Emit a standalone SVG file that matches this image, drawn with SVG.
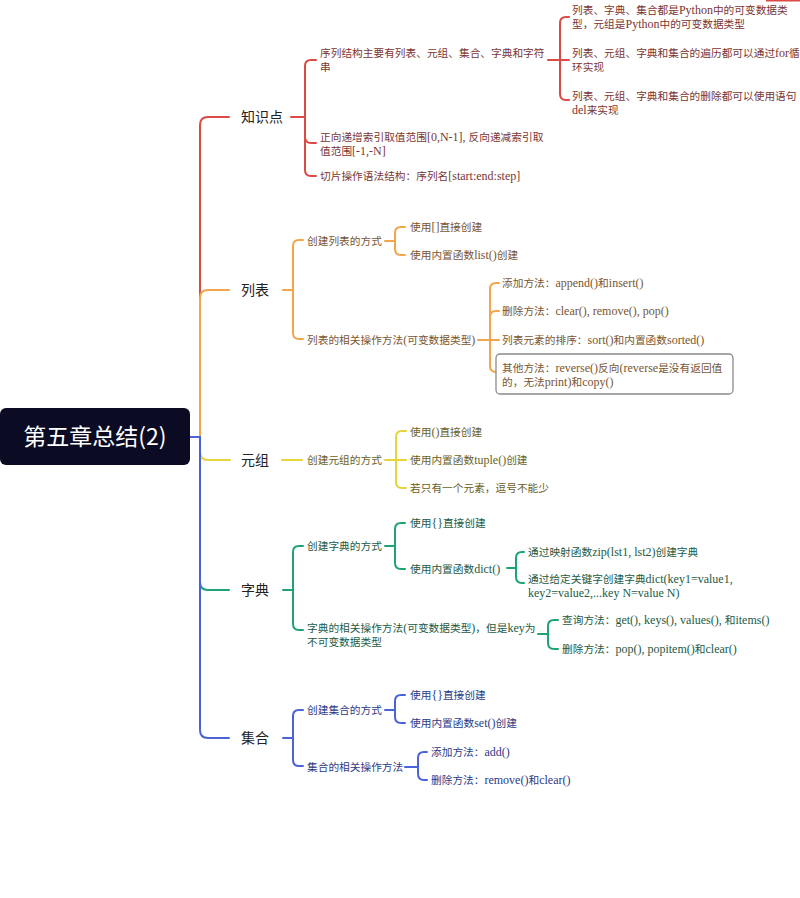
<svg xmlns="http://www.w3.org/2000/svg" width="800" height="898" viewBox="0 0 800 898">
<style>
.c{fill:none;stroke-width:2;stroke-linecap:round;stroke-linejoin:round}
.red{stroke:#dc4a45}.org{stroke:#f2a54a}.yel{stroke:#e6d43a}.grn{stroke:#1ea472}.blu{stroke:#4a63d8}
.l1{font-family:"Noto Sans CJK SC","Liberation Sans",sans-serif;font-size:14px;fill:#222}
.t{font-family:"Liberation Serif","Noto Sans CJK SC",serif;font-size:10.7px}
.e{font-size:12px}
.tr{fill:#7b3532}.to{fill:#7a5530}.ty{fill:#6a6126}.tg{fill:#1d5a43}.tb{fill:#2c3a86}
</style>
<rect width="800" height="898" fill="#fff"/>
<rect x="766" y="0" width="34" height="1.5" fill="#dc4a45"/>
<g id="connectors">
<path class="c red" d="M190,437 H200 V125 Q200,117 208,117 H229"/>
<path class="c org" d="M190,437 H200 V298 Q200,290 208,290 H229"/>
<path class="c yel" d="M190,437 H200 V452 Q200,460 208,460 H230"/>
<path class="c grn" d="M190,437 H200 V582 Q200,590 208,590 H229"/>
<path class="c blu" d="M190,437 H200 V730 Q200,738 208,738 H229"/>
<path class="c red" d="M291,117 H305 V66 Q305,60 311,60 H316 M291,117 H305 V137 Q305,143 311,143 H316 M291,117 H305 V170 Q305,176 311,176 H316"/>
<path class="c red" d="M548,60 H560 V23 Q560,17 566,17 H569 M548,60 H569 M548,60 H560 V94 Q560,100 566,100 H569"/>
<path class="c org" d="M283,290 H293 V246 Q293,240 299,240 H303 M283,290 H293 V333 Q293,339 299,339 H303"/>
<path class="c org" d="M385,241 H395 V233 Q395,227 401,227 H405 M385,241 H395 V249 Q395,255 401,255 H405"/>
<path class="c org" d="M478,340 H490 V289 Q490,283 496,283 H499 M478,340 H490 V317 Q490,311 496,311 H499 M478,340 H499 M478,340 H490 V366 Q490,372 496,372"/>
<path class="c yel" d="M282,460 H302"/>
<path class="c yel" d="M385,460 H396 V437 Q396,431 402,431 H406 M385,460 H406 M385,460 H396 V482 Q396,488 402,488 H406"/>
<path class="c grn" d="M283,590 H293 V552 Q293,546 299,546 H303 M283,590 H293 V624 Q293,630 299,630 H303"/>
<path class="c grn" d="M385,546 H395 V529 Q395,523 401,523 H405 M385,546 H395 V563 Q395,569 401,569 H405"/>
<path class="c grn" d="M507,568 H516 V558 Q516,552 522,552 H524 M507,568 H516 V577 Q516,583 522,583 H524"/>
<path class="c grn" d="M538,634 H548 V626 Q548,620 554,620 H558 M538,634 H548 V643 Q548,649 554,649 H558"/>
<path class="c blu" d="M283,738 H293 V716 Q293,710 299,710 H303 M283,738 H293 V760 Q293,766 299,766 H303"/>
<path class="c blu" d="M385,710 H395 V701 Q395,695 401,695 H405 M385,710 H395 V717 Q395,723 401,723 H405"/>
<path class="c blu" d="M405,767 H418 V758 Q418,752 424,752 H427 M405,767 H418 V774 Q418,780 424,780 H427"/>
</g>
<g id="root">
<rect x="0" y="408" width="190" height="57" rx="6" fill="#0b0b24"/>
<text x="95" y="445" text-anchor="middle" font-family="Noto Sans CJK SC, Liberation Sans, sans-serif" font-size="23" fill="#fff">第五章总结(2)</text>
</g>
<g id="n-zhishidian"><text class="l1" x="241" y="122">知识点</text></g>
<g id="n-xulie" class="t tr"><text x="320" y="57">序列结构主要有列表、元组、集合、字典和字符</text><text x="320" y="71">串</text></g>
<g id="n-kebian" class="t tr"><text x="572" y="14">列表、字典、集合都是<tspan class="e">Python</tspan>中的可变数据类</text><text x="572" y="28">型，元组是<tspan class="e">Python</tspan>中的可变数据类型</text></g>
<g id="n-bianli" class="t tr"><text x="572" y="57">列表、元组、字典和集合的遍历都可以通过<tspan class="e">for</tspan>循</text><text x="572" y="71">环实现</text></g>
<g id="n-shanchu" class="t tr"><text x="572" y="100">列表、元组、字典和集合的删除都可以使用语句</text><text x="572" y="114"><tspan class="e">del</tspan>来实现</text></g>
<g id="n-suoyin" class="t tr"><text x="320" y="141">正向递增索引取值范围<tspan class="e">[0,N-1], </tspan>反向递减索引取</text><text x="320" y="155">值范围<tspan class="e">[-1,-N]</tspan></text></g>
<g id="n-qiepian" class="t tr"><text x="320" y="180">切片操作语法结构：序列名<tspan class="e">[start:end:step]</tspan></text></g>
<g id="n-liebiao"><text class="l1" x="241" y="295">列表</text></g>
<g id="n-lb-create" class="t to"><text x="307" y="245">创建列表的方式</text></g>
<g id="n-lb-c1" class="t to"><text x="410" y="231">使用<tspan class="e">[]</tspan>直接创建</text></g>
<g id="n-lb-c2" class="t to"><text x="410" y="259">使用内置函数<tspan class="e">list()</tspan>创建</text></g>
<g id="n-lb-ops" class="t to"><text x="307" y="344">列表的相关操作方法<tspan class="e">(</tspan>可变数据类型<tspan class="e">)</tspan></text></g>
<g id="n-lb-o1" class="t to"><text x="502" y="287">添加方法：<tspan class="e">append()</tspan>和<tspan class="e">insert()</tspan></text></g>
<g id="n-lb-o2" class="t to"><text x="502" y="315">删除方法：<tspan class="e">clear(), remove(), pop()</tspan></text></g>
<g id="n-lb-o3" class="t to"><text x="502" y="344">列表元素的排序：<tspan class="e">sort()</tspan>和内置函数<tspan class="e">sorted()</tspan></text></g>
<g id="n-lb-o4"><rect x="496" y="354" width="237" height="40" rx="4" fill="#fff" stroke="#8a8a8a" stroke-width="1.3"/><g class="t to"><text x="502" y="372">其他方法：<tspan class="e">reverse()</tspan>反向<tspan class="e">(reverse</tspan>是没有返回值</text><text x="502" y="386">的，无法<tspan class="e">print)</tspan>和<tspan class="e">copy()</tspan></text></g></g>
<g id="n-yuanzu"><text class="l1" x="241" y="465">元组</text></g>
<g id="n-yz-create" class="t ty"><text x="307" y="464">创建元组的方式</text></g>
<g id="n-yz-c1" class="t ty"><text x="410" y="436">使用<tspan class="e">()</tspan>直接创建</text></g>
<g id="n-yz-c2" class="t ty"><text x="410" y="464">使用内置函数<tspan class="e">tuple()</tspan>创建</text></g>
<g id="n-yz-c3" class="t ty"><text x="410" y="492">若只有一个元素，逗号不能少</text></g>
<g id="n-zidian"><text class="l1" x="241" y="595">字典</text></g>
<g id="n-zd-create" class="t tg"><text x="307" y="550">创建字典的方式</text></g>
<g id="n-zd-c1" class="t tg"><text x="410" y="527">使用<tspan class="e">{}</tspan>直接创建</text></g>
<g id="n-zd-c2" class="t tg"><text x="410" y="573">使用内置函数<tspan class="e">dict()</tspan></text></g>
<g id="n-zd-zip" class="t tg"><text x="528" y="556">通过映射函数<tspan class="e">zip(lst1, lst2)</tspan>创建字典</text></g>
<g id="n-zd-kw" class="t tg"><text x="528" y="583">通过给定关键字创建字典<tspan class="e">dict(key1=value1,</tspan></text><text x="528" y="597"><tspan class="e">key2=value2,...key N=value N)</tspan></text></g>
<g id="n-zd-ops" class="t tg"><text x="307" y="632">字典的相关操作方法<tspan class="e">(</tspan>可变数据类型<tspan class="e">)</tspan>，但是<tspan class="e">key</tspan>为</text><text x="307" y="646">不可变数据类型</text></g>
<g id="n-zd-o1" class="t tg"><text x="562" y="624">查询方法：<tspan class="e">get(), keys(), values(), </tspan>和<tspan class="e">items()</tspan></text></g>
<g id="n-zd-o2" class="t tg"><text x="562" y="653">删除方法：<tspan class="e">pop(), popitem()</tspan>和<tspan class="e">clear()</tspan></text></g>
<g id="n-jihe"><text class="l1" x="241" y="743">集合</text></g>
<g id="n-jh-create" class="t tb"><text x="307" y="714">创建集合的方式</text></g>
<g id="n-jh-c1" class="t tb"><text x="410" y="699">使用<tspan class="e">{}</tspan>直接创建</text></g>
<g id="n-jh-c2" class="t tb"><text x="410" y="727">使用内置函数<tspan class="e">set()</tspan>创建</text></g>
<g id="n-jh-ops" class="t tb"><text x="307" y="771">集合的相关操作方法</text></g>
<g id="n-jh-o1" class="t tb"><text x="431" y="756">添加方法：<tspan class="e">add()</tspan></text></g>
<g id="n-jh-o2" class="t tb"><text x="431" y="784">删除方法：<tspan class="e">remove()</tspan>和<tspan class="e">clear()</tspan></text></g>
</svg>
